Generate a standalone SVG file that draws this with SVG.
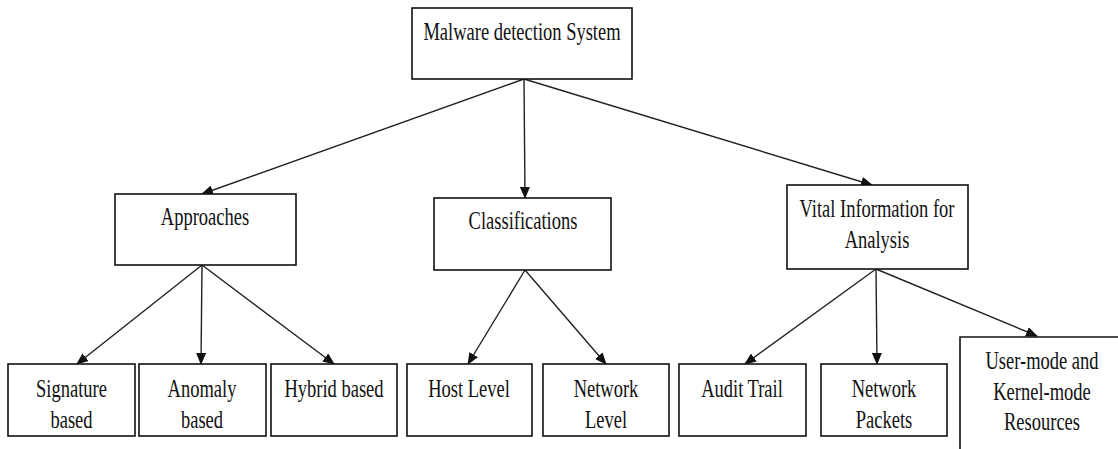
<svg xmlns="http://www.w3.org/2000/svg" width="1118" height="449" viewBox="0 0 1118 449">
  <style>
    .box { fill: #fff; stroke: #111; stroke-width: 1.6; }
    .edge { stroke: #222; stroke-width: 1.4; fill: none; marker-end: url(#arrow); }
    .t { font-size: 18.5px; fill: #111; text-anchor: middle; }
  </style>
  <defs>
    <marker id="arrow" markerUnits="userSpaceOnUse" markerWidth="12" markerHeight="10" refX="11" refY="5" orient="auto">
      <path d="M0,0 L12,5 L0,10 z" fill="#111"/>
    </marker>
  </defs>
  <rect width="1118" height="449" fill="#fff"/>

  <g id="connectors">
    <line class="edge" x1="524" y1="79" x2="202" y2="194"/>
    <line class="edge" x1="524" y1="79" x2="525" y2="198"/>
    <line class="edge" x1="524" y1="79" x2="872" y2="185"/>
    <line class="edge" x1="202" y1="265" x2="77" y2="364"/>
    <line class="edge" x1="202" y1="265" x2="201" y2="364"/>
    <line class="edge" x1="202" y1="265" x2="334" y2="364"/>
    <line class="edge" x1="525" y1="270" x2="468" y2="364"/>
    <line class="edge" x1="525" y1="270" x2="606" y2="364"/>
    <line class="edge" x1="876" y1="269" x2="745" y2="364"/>
    <line class="edge" x1="876" y1="269" x2="877" y2="364"/>
    <line class="edge" x1="876" y1="269" x2="1037" y2="336"/>
  </g>

  <g id="nodes" font-family="Liberation Serif, Times New Roman, serif">
    <g id="root">
      <rect class="box" x="412" y="8" width="220" height="71"/>
      <text class="t" transform="matrix(1,0,0,1.38,522,40)">Malware detection System</text>
    </g>

    <g id="approaches">
      <rect class="box" x="115" y="194" width="181" height="71"/>
      <text class="t" transform="matrix(1,0,0,1.38,205,225)">Approaches</text>
    </g>

    <g id="classifications">
      <rect class="box" x="434" y="198" width="177" height="72"/>
      <text class="t" transform="matrix(1,0,0,1.38,523,229)">Classifications</text>
    </g>

    <g id="vital-info">
      <rect class="box" x="787" y="185" width="181" height="84"/>
      <text class="t" transform="matrix(1,0,0,1.38,877,217)">Vital Information for</text>
      <text class="t" transform="matrix(1,0,0,1.38,877,248)">Analysis</text>
    </g>

    <g id="signature">
      <rect class="box" x="8" y="364" width="127" height="72"/>
      <text class="t" transform="matrix(1,0,0,1.38,71.5,397)">Signature</text>
      <text class="t" transform="matrix(1,0,0,1.38,71.5,428)">based</text>
    </g>

    <g id="anomaly">
      <rect class="box" x="139" y="364" width="127" height="72"/>
      <text class="t" transform="matrix(1,0,0,1.38,202,397)">Anomaly</text>
      <text class="t" transform="matrix(1,0,0,1.38,202,428)">based</text>
    </g>

    <g id="hybrid">
      <rect class="box" x="271" y="364" width="126" height="72"/>
      <text class="t" transform="matrix(1,0,0,1.38,334,397)">Hybrid based</text>
    </g>

    <g id="host-level">
      <rect class="box" x="407" y="364" width="125" height="72"/>
      <text class="t" transform="matrix(1,0,0,1.38,469,397)">Host Level</text>
    </g>

    <g id="network-level">
      <rect class="box" x="543" y="364" width="126" height="72"/>
      <text class="t" transform="matrix(1,0,0,1.38,606,397)">Network</text>
      <text class="t" transform="matrix(1,0,0,1.38,606,428)">Level</text>
    </g>

    <g id="audit-trail">
      <rect class="box" x="679" y="364" width="127" height="72"/>
      <text class="t" transform="matrix(1,0,0,1.38,742,397)">Audit Trail</text>
    </g>

    <g id="network-packets">
      <rect class="box" x="821" y="364" width="126" height="72"/>
      <text class="t" transform="matrix(1,0,0,1.38,884,397)">Network</text>
      <text class="t" transform="matrix(1,0,0,1.38,884,428)">Packets</text>
    </g>

    <g id="kernel-resources">
      <path class="box" d="M960,449 V337 H1118"/>
      <text class="t" transform="matrix(1,0,0,1.38,1042,369)">User-mode and</text>
      <text class="t" transform="matrix(1,0,0,1.38,1042,400)">Kernel-mode</text>
      <text class="t" transform="matrix(1,0,0,1.38,1042,430)">Resources</text>
    </g>
  </g>
</svg>
